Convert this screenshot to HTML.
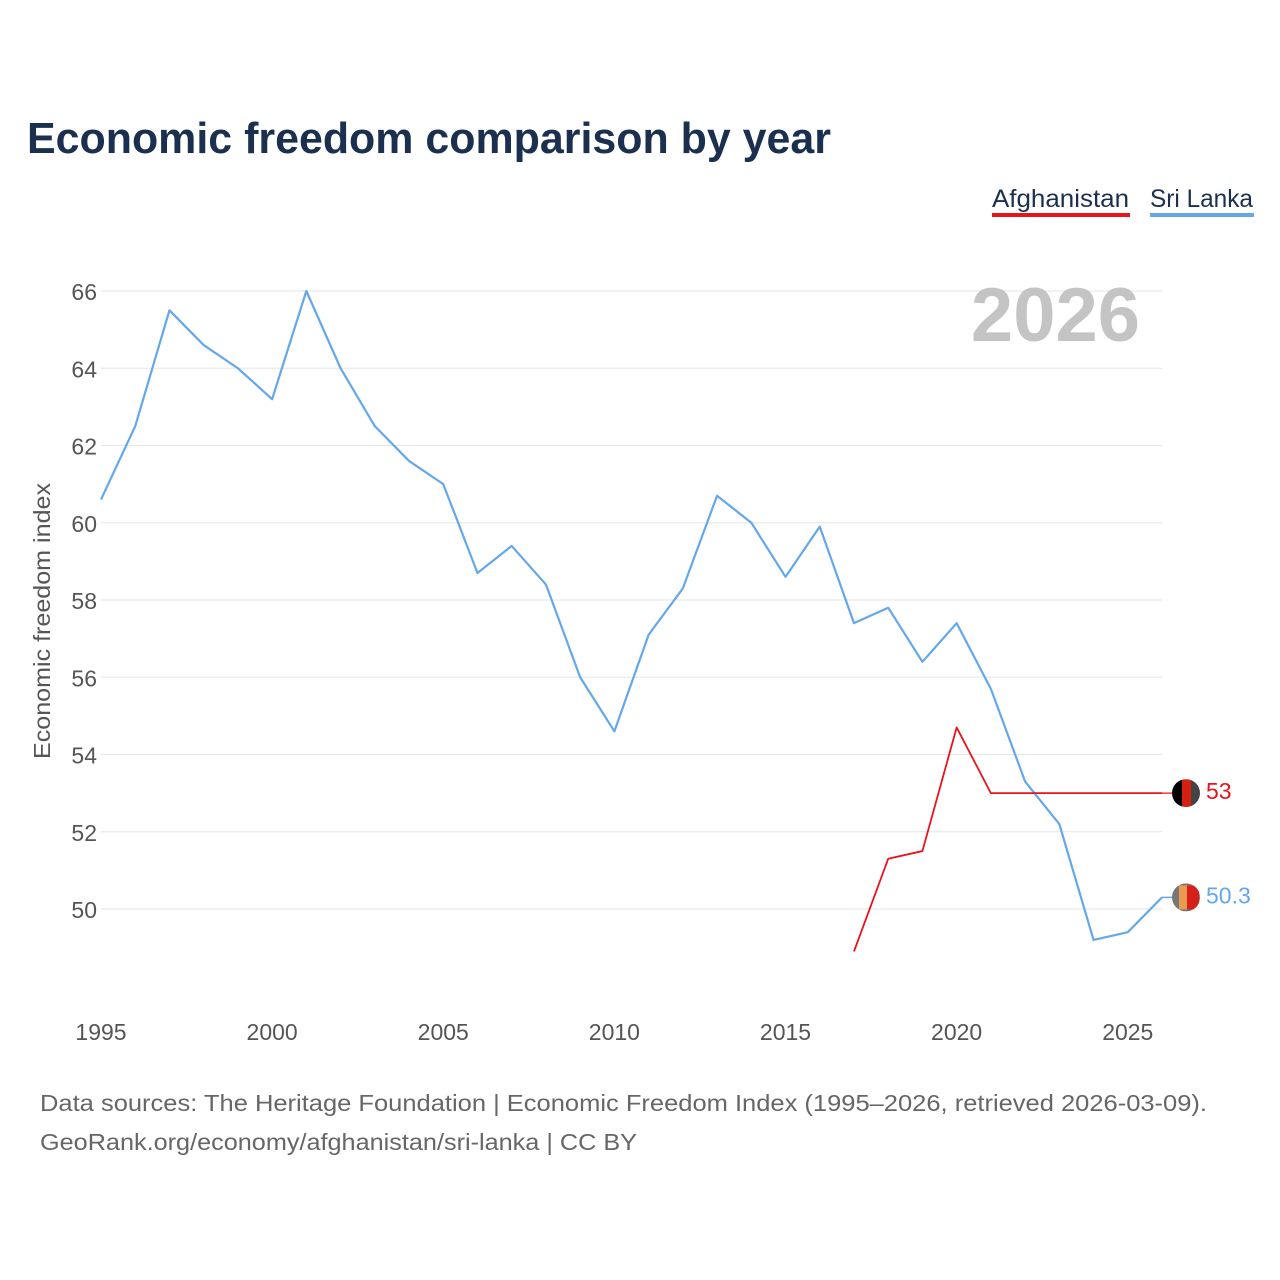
<!DOCTYPE html>
<html><head><meta charset="utf-8"><style>
body{margin:0;background:#fff;font-family:"Liberation Sans",sans-serif;}
#wrap{position:relative;width:1280px;height:1280px;overflow:hidden;}
</style></head><body>
<div id="wrap">
<svg id="chart" width="1280" height="1280"></svg>
</div>
<script>
const years = [];
for (let y = 1995; y <= 2026; y++) years.push(y);
const sriLanka = [60.6,62.5,65.5,64.6,64.0,63.2,66.0,64.0,62.5,61.6,61.0,58.7,59.4,58.4,56.0,54.6,57.1,58.3,60.7,60.0,58.6,59.9,57.4,57.8,56.4,57.4,55.7,53.3,52.2,49.2,49.4,50.3];
const afgYears = [2017,2018,2019,2020,2021,2022,2023,2024,2025,2026];
const afghanistan = [48.9,51.3,51.5,54.7,53.0,53.0,53.0,53.0,53.0,53.0];
const yTicks = [50,52,54,56,58,60,62,64,66];
const xTicks = [1995,2000,2005,2010,2015,2020,2025];

const NS = "http://www.w3.org/2000/svg";
const svg = document.getElementById('chart');
const xs = y => 101 + (y - 1995) * (1061 / 31);
const ys = v => 909 - (v - 50) * 38.625;
function mk(tag, attrs, parent) {
  const e = document.createElementNS(NS, tag);
  for (const k in attrs) e.setAttribute(k, attrs[k]);
  (parent || svg).appendChild(e);
  return e;
}
function txt(s, attrs) { const t = mk('text', attrs); t.textContent = s; return t; }

const title = txt('Economic freedom comparison by year', {x:27, y:153, 'font-size':44, 'font-weight':'bold', fill:'#1b2f4f', textLength:804, lengthAdjust:'spacingAndGlyphs'});



// legend
const l1 = txt('Afghanistan', {x:992, y:207, 'font-size':25, fill:'#1b2f4f', textLength:137, lengthAdjust:'spacingAndGlyphs'});


const lu1 = mk('rect', {x:992, y:213, width:138, height:4, fill:'#e8141c'});


const l2 = txt('Sri Lanka', {x:1150, y:207, 'font-size':25, fill:'#1b2f4f', textLength:103, lengthAdjust:'spacingAndGlyphs'});


const lu2 = mk('rect', {x:1150, y:213, width:104, height:4, fill:'#64a8ea'});



// grid + y ticks
yTicks.forEach(v => {
  const g = mk('line', {x1:101, x2:1162, y1:ys(v), y2:ys(v), stroke:'#e6e6e6', 'stroke-width':1});
  
  
  const t = txt(String(v), {x:97, y:ys(v) + 9, 'font-size':23, fill:'#555', 'text-anchor':'end'});
  
  
});
xTicks.forEach(y => {
  const t = txt(String(y), {x:xs(y), y:1040, 'font-size':23, fill:'#555', 'text-anchor':'middle'});
  
  
});
const yt = txt('Economic freedom index', {x:0, y:0, 'font-size':23, fill:'#555', 'text-anchor':'middle', transform:'translate(50,621) rotate(-90)', textLength:276, lengthAdjust:'spacingAndGlyphs'});



const yr = txt('2026', {x:1140, y:341, 'font-size':76, 'font-weight':'bold', fill:'#c4c4c4', 'text-anchor':'end'});



// lines
const sl = mk('polyline', {points: years.map((y,i)=>xs(y)+','+ys(sriLanka[i])).join(' '), fill:'none', stroke:'#64a8ea', 'stroke-width':2.2, 'stroke-linejoin':'round'});


const af = mk('polyline', {points: afgYears.map((y,i)=>xs(y)+','+ys(afghanistan[i])).join(' '), fill:'none', stroke:'#e8141c', 'stroke-width':1.8, 'stroke-linejoin':'round'});



// end markers
const aLast = afghanistan[afghanistan.length-1], sLast = sriLanka[sriLanka.length-1];
const ex = xs(2026) + 24;
const ax = mk('line', {x1:xs(2026), x2:ex, y1:ys(aLast), y2:ys(aLast), stroke:'#e8141c', 'stroke-width':1.2});


const sx = mk('line', {x1:xs(2026), x2:ex, y1:ys(sLast), y2:ys(sLast), stroke:'#64a8ea', 'stroke-width':1.5});


const fa = mk('g', {});


const cp1 = mk('clipPath', {id:'c1'}, fa);
mk('circle', {cx:ex, cy:ys(aLast), r:14}, cp1);
const ga = mk('g', {'clip-path':'url(#c1)'}, fa);
mk('rect', {x:ex-14, y:ys(aLast)-14, width:10, height:28, fill:'#000'}, ga);
mk('rect', {x:ex-4, y:ys(aLast)-14, width:9, height:28, fill:'#d32011'}, ga);
mk('rect', {x:ex+5, y:ys(aLast)-14, width:10, height:28, fill:'#444'}, ga);
const fs = mk('g', {});


const cp2 = mk('clipPath', {id:'c2'}, fs);
mk('circle', {cx:ex, cy:ys(sLast), r:14}, cp2);
const gs = mk('g', {'clip-path':'url(#c2)'}, fs);
mk('rect', {x:ex-14, y:ys(sLast)-14, width:28, height:28, fill:'#777'}, gs);
mk('rect', {x:ex-7, y:ys(sLast)-12, width:8, height:24, fill:'#eb9a50'}, gs);
mk('rect', {x:ex+1, y:ys(sLast)-12, width:12, height:24, fill:'#d8201a'}, gs);
const v1 = txt(String(aLast), {x:ex+20, y:ys(aLast)+6, 'font-size':23, fill:'#e8141c'});


const v2 = txt(String(sLast), {x:ex+20, y:ys(sLast)+6, 'font-size':23, fill:'#64a8ea'});



const s1 = txt('Data sources: The Heritage Foundation | Economic Freedom Index (1995–2026, retrieved 2026-03-09).', {x:40, y:1111, 'font-size':23.5, fill:'#666', textLength:1167, lengthAdjust:'spacingAndGlyphs'});


const s2 = txt('GeoRank.org/economy/afghanistan/sri-lanka | CC BY', {x:40, y:1150, 'font-size':23.5, fill:'#666', textLength:597, lengthAdjust:'spacingAndGlyphs'});


</script>
</body></html>
